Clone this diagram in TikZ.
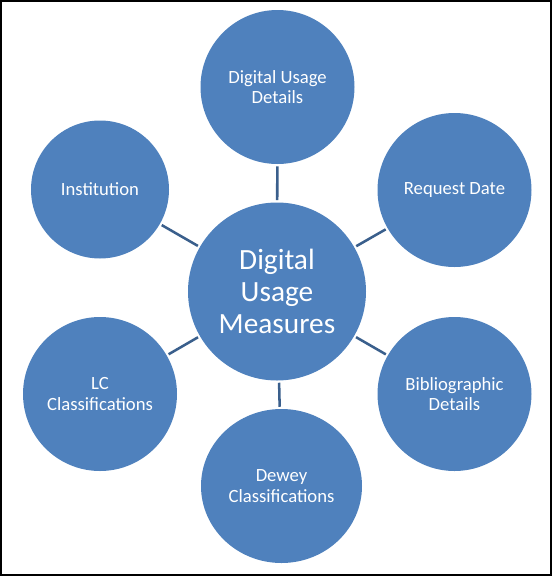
\documentclass[tikz,border=0pt]{standalone}
\usepackage{fontspec}
\setmainfont{Carlito}
\usetikzlibrary{shapes.geometric}

\definecolor{bulle}{RGB}{79,129,189}
\definecolor{trait}{RGB}{58,95,140}

\begin{document}
\begin{tikzpicture}[x=0.75pt, y=-0.75pt,
	bulle/.style={ circle, fill=bulle, text=white, align=center, inner sep=0pt, minimum size=115.5pt, font=\fontsize{14}{15.5}\selectfont },
	lien/.style={ draw=trait, line width=1.9pt, shorten <=1.5pt, shorten >=1.5pt }
]

	\useasboundingbox (0, 0) rectangle (552, 576);
	
	\draw[ line width=1.5pt ] (1, 1) rectangle (550.5, 575); % Cadre
	
	\node[ bulle, minimum size=133.5pt, font=\fontsize{22}{24}\selectfont ] (centre) at (277, 291.5) {Digital\\Usage\\Measures};
	
	\node[ bulle ] (haut) at (277.5, 87) {Digital Usage\\Details};
	\node[ bulle ] (date) at (454.5, 190) {Request Date};
	\node[ bulle ] (biblio) at (454.5, 394) {Bibliographic\\Details};
	\node[ bulle, ellipse, minimum width=120.75pt, minimum height=115.5pt ] (dewey) at (281.5, 486) {Dewey\\Classifications};
	\node[ bulle ] (lc) at (100, 394) {LC\\Classifications};
	\node[ bulle, minimum size=103.5pt ] (inst) at (100, 189.5) {Institution};
	
	\foreach \b in {haut, date, biblio, dewey, lc, inst} {
		\draw[ lien ] (centre) -- (\b);
	}

\end{tikzpicture}
\end{document}
